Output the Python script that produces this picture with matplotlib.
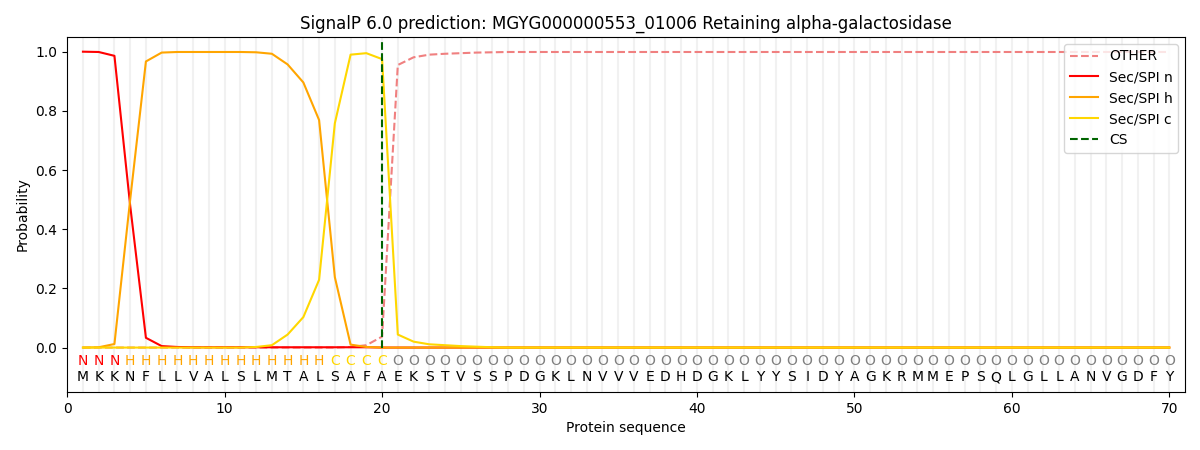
import matplotlib
matplotlib.use("Agg")
import matplotlib.pyplot as plt
import numpy as np

sequence = list("MKKNFLLVALSLMTALSAFAEKSTVSSPDGKLNVVVEDHDGKLYYSIDYAGKRMMEPSQLGLLANVGDFY")
labels = list("NNN" + "H" * 13 + "CCCC" + "O" * 50)

n_head = [1.0, 0.999, 0.986, 0.48, 0.033, 0.005, 0.002, 0.001, 0.001, 0.001,
          0.001, 0.001, 0.001, 0.001, 0.001, 0.001, 0.001, 0.001, 0.001, 0.0]
h_head = [0.0, 0.001, 0.012, 0.50, 0.967, 0.997, 0.999, 0.999, 0.999, 0.999,
          0.999, 0.998, 0.993, 0.957, 0.896, 0.769, 0.238, 0.010, 0.002, 0.0]
c_head = [0.0, 0.0, 0.0, 0.0, 0.0, 0.0, 0.0, 0.0, 0.0, 0.0,
          0.0, 0.002, 0.008, 0.044, 0.103, 0.229, 0.758, 0.990, 0.995, 0.975,
          0.044, 0.020, 0.011, 0.008, 0.005, 0.003, 0.001]
other_head = [0.0] * 18 + [0.002, 0.008, 0.037, 0.955, 0.981, 0.990, 0.993, 0.995, 0.997, 0.998]

L = len(sequence)
sec_n = np.array(n_head + [0.0] * (L - len(n_head)))
sec_h = np.array(h_head + [0.0] * (L - len(h_head)))
sec_c = np.array(c_head + [0.0] * (L - len(c_head)))
other = np.array(other_head[1:] + [0.999] * (L - len(other_head) + 1))
cs_pos = 20

label_colors = {"N": "red", "H": "orange", "C": "gold", "O": "gray"}

fig, ax = plt.subplots(figsize=(12, 4.5), dpi=100)
fig.subplots_adjust(left=0.056, right=0.9875, top=0.918, bottom=0.129)

x = np.arange(1, L + 1)
for xi in x:
    ax.axvline(xi, color="lightgray", alpha=0.3, lw=1.5, zorder=0)

ax.plot(x, other, color="lightcoral", ls="--", lw=1.5, label="OTHER")
ax.plot(x, sec_n, color="red", lw=1.5, label="Sec/SPI n")
ax.plot(x, sec_h, color="orange", lw=1.5, label="Sec/SPI h")
ax.plot(x, sec_c, color="gold", lw=1.5, label="Sec/SPI c")
ax.vlines(cs_pos, 0, 1.04, color="darkgreen", linestyles="--", lw=1.5, label="CS")

for xi, lab, res in zip(x, labels, sequence):
    ax.text(xi, -0.047, lab, color=label_colors[lab], ha="center", va="center", fontsize=10)
    ax.text(xi, -0.10, res, color="black", ha="center", va="center", fontsize=10)

ax.set_xlim(0, 71)
ax.set_ylim(-0.15, 1.05)
ax.set_xlabel("Protein sequence")
ax.set_ylabel("Probability")
ax.set_title("SignalP 6.0 prediction: MGYG000000553_01006 Retaining alpha-galactosidase")
ax.legend(loc="upper right")

fig.savefig("out.png")
